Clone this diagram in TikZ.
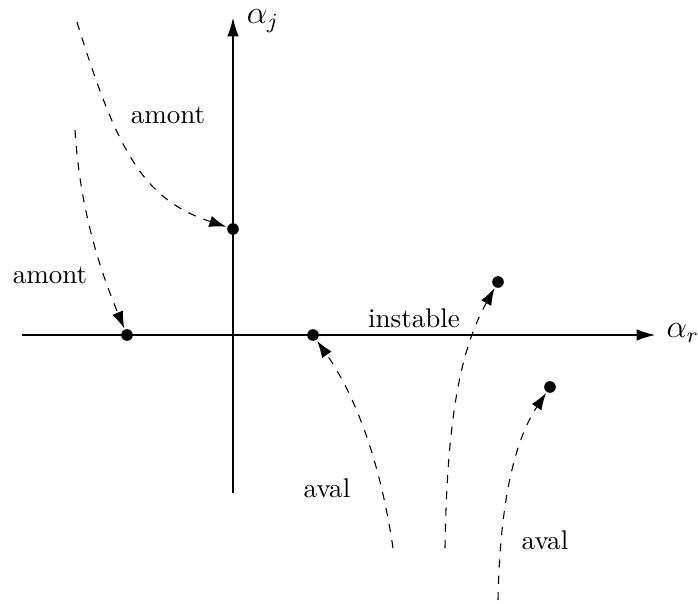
\documentclass[tikz,border=0pt]{standalone}
\usepackage{tikz}
\usetikzlibrary{arrows.meta}
\tikzset{
  >=Latex,
  axis/.style={-{Latex[length=2.4mm,width=1.5mm]}, line width=0.4pt},
  flow/.style={-{Latex[length=2.2mm,width=1.5mm]}, dashed, line width=0.4pt, shorten >=0.3pt},
  pole/.style={circle, fill=black, inner sep=0pt, minimum size=4.3pt},
  lbl/.style={inner sep=1pt}
}
\begin{document}
\begin{tikzpicture}[x=0.013cm, y=-0.013cm]
\useasboundingbox (0,0) rectangle (698,604);
% axes
\coordinate (xl) at (22,335);
\coordinate (xr) at (655,335);
\coordinate (yb) at (233,493);
\coordinate (yt) at (233,18);
\draw[axis] (xl) -- (xr);
\draw[axis] (yb) -- (yt);
\node[lbl] (ar) at (683,333) {\large$\alpha_r$};
\node[lbl] (aj) at (263,21) {\large$\alpha_j$};
% poles
\node[pole] (p1) at (233,229) {};
\node[pole] (p2) at (127,335) {};
\node[pole] (p3) at (313,335) {};
\node[pole] (p4) at (498,282) {};
\node[pole] (p5) at (550,387) {};
% start points of the branches
\coordinate (s1) at (77,22);
\coordinate (s2) at (75,130);
\coordinate (s3) at (393,548);
\coordinate (s4) at (445,548);
\coordinate (s5) at (498,600);
\draw[flow] (s1) .. controls (118,155) and (145,200) .. (p1);
\draw[flow] (s2) .. controls (80,210) and (100,270) .. (p2);
\draw[flow] (s3) .. controls (380,460) and (355,395) .. (p3);
\draw[flow] (s4) .. controls (447,420) and (460,350) .. (p4);
\draw[flow] (s5) .. controls (500,500) and (515,440) .. (p5);
% labels
\node[lbl] (l1) at (168,115) {amont};
\node[lbl] (l2) at (50,275) {amont};
\node[lbl] (l3) at (414,318) {instable};
\node[lbl] (l4) at (327,488) {aval};
\node[lbl] (l5) at (545,540) {aval};
\end{tikzpicture}
\end{document}
